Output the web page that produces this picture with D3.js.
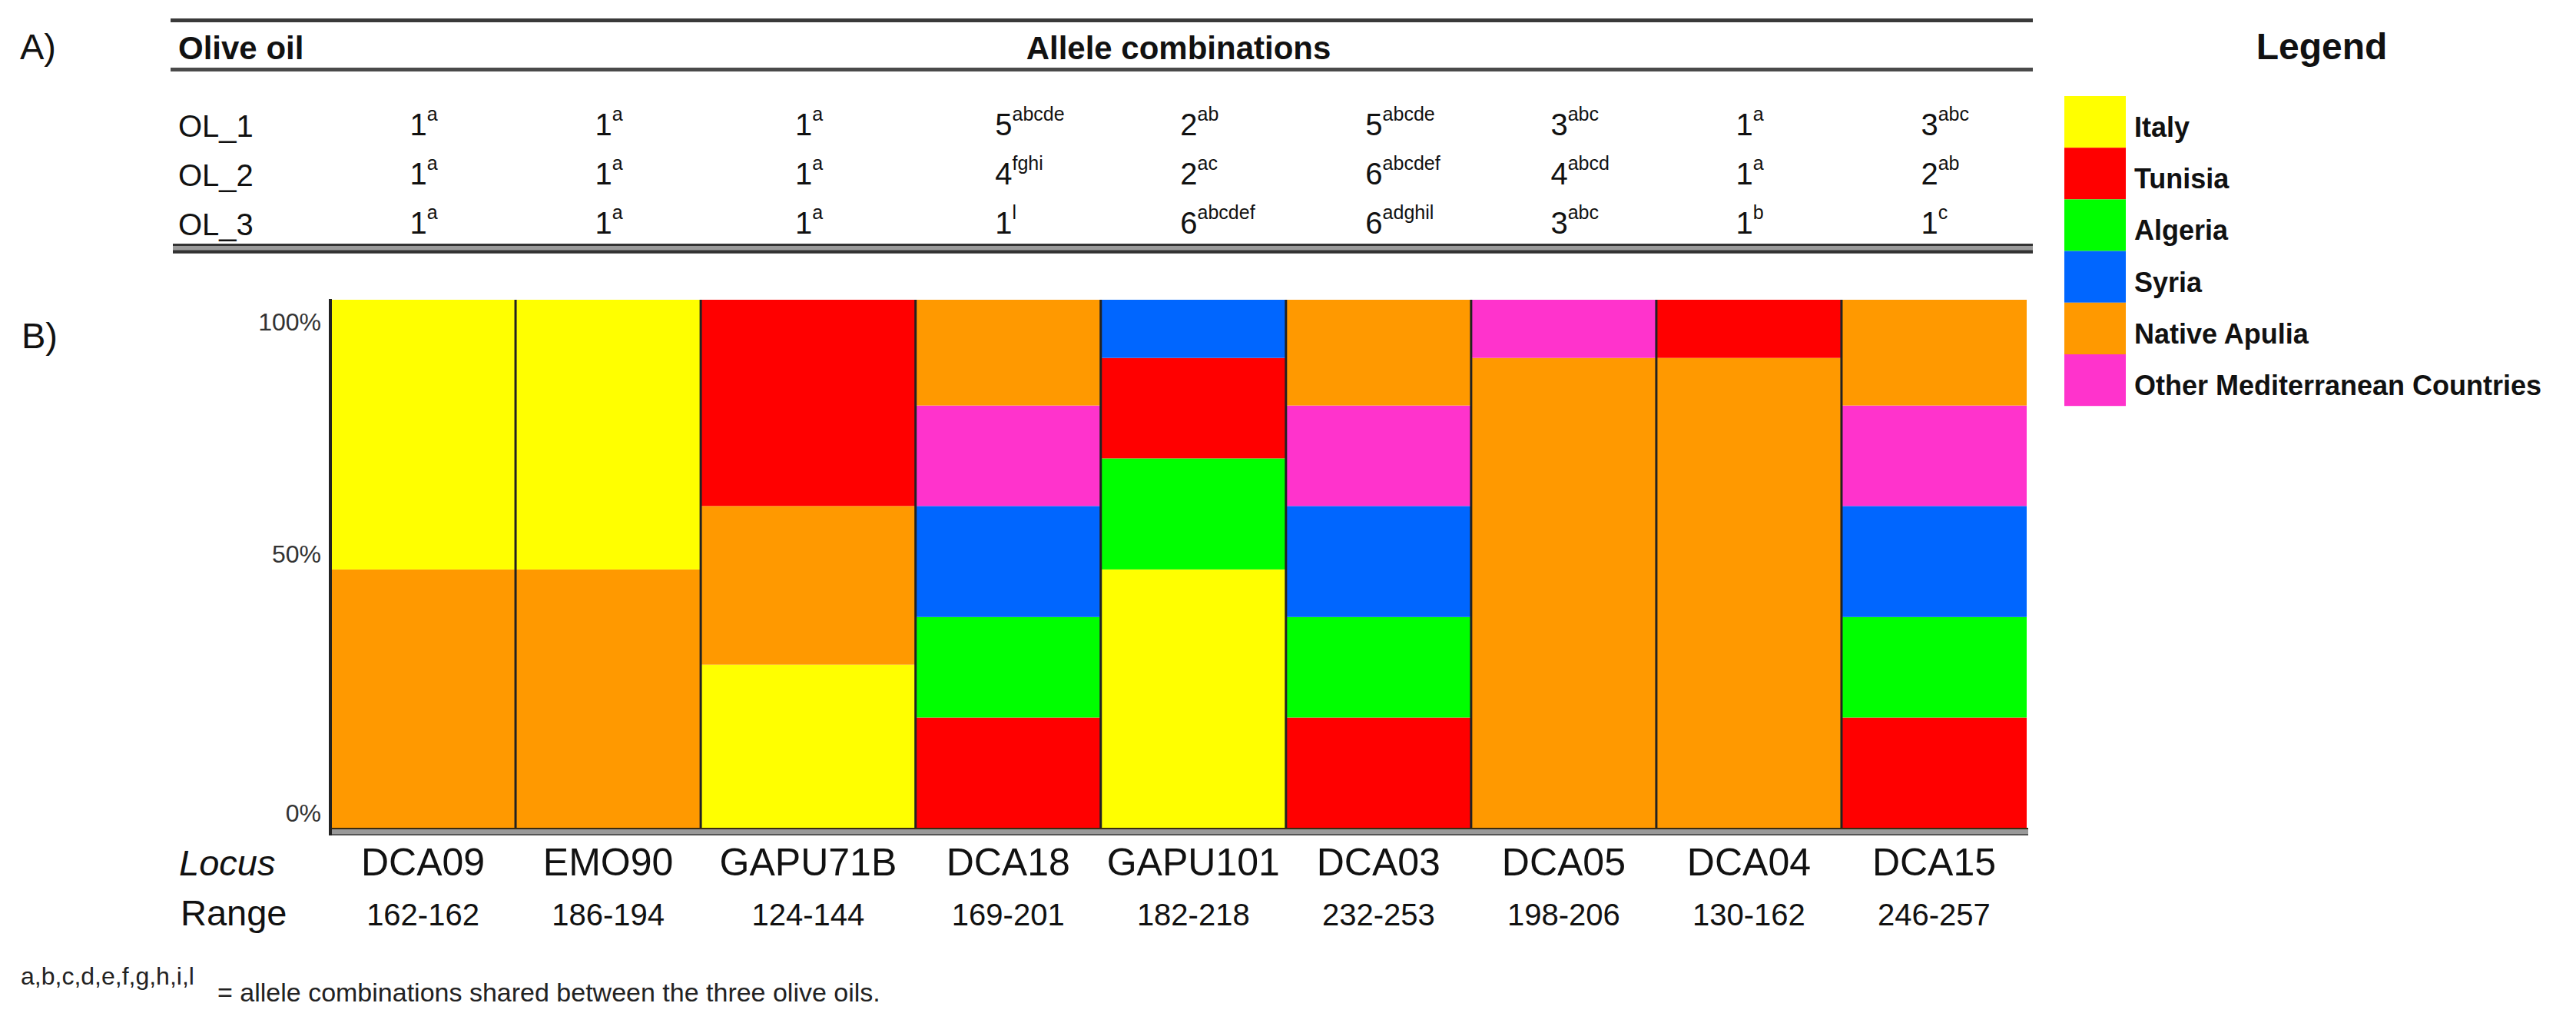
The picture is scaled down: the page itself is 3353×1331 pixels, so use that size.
<!DOCTYPE html>
<html>
<head>
<meta charset="utf-8">
<script src="https://cdn.jsdelivr.net/npm/d3@7"></script>
<style>
  body { margin: 0; background: #fff; }
  svg { display: block; font-family: "Liberation Sans", Arial, sans-serif; }
</style>
</head>
<body>
<div id="chart"></div>
<script>
// ==============================
// Data
// ==============================
var loci = ["DCA09", "EMO90", "GAPU71B", "DCA18", "GAPU101", "DCA03", "DCA05", "DCA04", "DCA15"];
var ranges = ["162-162", "186-194", "124-144", "169-201", "182-218", "232-253", "198-206", "130-162", "246-257"];

var origins = ["Italy", "Tunisia", "Algeria", "Syria", "Native Apulia", "Other Mediterranean Countries"];
var originColors = ["#ffff00", "#ff0000", "#00ff00", "#0066ff", "#ff9900", "#ff33cc"];

// share of each origin per locus, listed bottom to top
var segments = [
  [["Native Apulia", 0.49], ["Italy", 0.51]],
  [["Native Apulia", 0.49], ["Italy", 0.51]],
  [["Italy", 0.31], ["Native Apulia", 0.30], ["Tunisia", 0.39]],
  [["Tunisia", 0.21], ["Algeria", 0.19], ["Syria", 0.21], ["Other Mediterranean Countries", 0.19], ["Native Apulia", 0.20]],
  [["Italy", 0.49], ["Algeria", 0.21], ["Tunisia", 0.19], ["Syria", 0.11]],
  [["Tunisia", 0.21], ["Algeria", 0.19], ["Syria", 0.21], ["Other Mediterranean Countries", 0.19], ["Native Apulia", 0.20]],
  [["Native Apulia", 0.89], ["Other Mediterranean Countries", 0.11]],
  [["Native Apulia", 0.89], ["Tunisia", 0.11]],
  [["Tunisia", 0.21], ["Algeria", 0.19], ["Syria", 0.21], ["Other Mediterranean Countries", 0.19], ["Native Apulia", 0.20]]
];

var yTicks = [0, 0.5, 1];

// table A
var oils = ["OL_1", "OL_2", "OL_3"];
var alleleCounts = [
  [1, 1, 1, 5, 2, 5, 3, 1, 3],
  [1, 1, 1, 4, 2, 6, 4, 1, 2],
  [1, 1, 1, 1, 6, 6, 3, 1, 1]
];
var alleleShared = [
  ["a", "a", "a", "abcde", "ab", "abcde", "abc", "a", "abc"],
  ["a", "a", "a", "fghi", "ac", "abcdef", "abcd", "a", "ab"],
  ["a", "a", "a", "l", "abcdef", "adghil", "abc", "b", "c"]
];

// ==============================
// Layout
// ==============================
var svgWidth = 3353;
var svgHeight = 1331;

var plot = { left: 430, right: 2638, top: 390, bottom: 1078 };
// GAPU71B column is drawn a bit wider than the others
var colWeights = [1, 1, 1.16, 1, 1, 1, 1, 1, 1];

var svg = d3.select("#chart")
  .append("svg")
  .attr("width", svgWidth)
  .attr("height", svgHeight);

var textColor = "#111";

// x positions from cumulative column weights
var cum = [0];
colWeights.forEach(function(w, i) { cum.push(cum[i] + w); });
var xUnit = d3.scaleLinear()
  .domain([0, cum[cum.length - 1]])
  .range([plot.left, plot.right]);
function colLeft(i) { return xUnit(cum[i]); }
function colRight(i) { return xUnit(cum[i + 1]); }
function colMid(i) { return (colLeft(i) + colRight(i)) / 2; }

var yScale = d3.scaleLinear()
  .domain([0, 1])
  .range([plot.bottom, plot.top]);

// tick label baselines sit a little off the plot edges in the original
var yLabel = d3.scaleLinear()
  .domain([0, 0.5, 1])
  .range([1069, 732, 430]);

var color = d3.scaleOrdinal()
  .domain(origins)
  .range(originColors);

// ==============================
// Panel labels
// ==============================
svg.append("text")
  .attr("x", 26).attr("y", 77)
  .attr("font-size", 47)
  .attr("fill", textColor)
  .text("A)");

svg.append("text")
  .attr("x", 28).attr("y", 453)
  .attr("font-size", 47)
  .attr("fill", textColor)
  .text("B)");

// ==============================
// Table A
// ==============================
var table = svg.append("g");
var tLeft = 222, tRight = 2646;

table.append("line")
  .attr("x1", tLeft).attr("x2", tRight)
  .attr("y1", 26.5).attr("y2", 26.5)
  .attr("stroke", "#3a3a3a").attr("stroke-width", 5);

table.append("line")
  .attr("x1", tLeft).attr("x2", tRight)
  .attr("y1", 90.5).attr("y2", 90.5)
  .attr("stroke", "#4a4a4a").attr("stroke-width", 5);

// bottom double rule
table.append("rect")
  .attr("x", tLeft + 3).attr("y", 317)
  .attr("width", tRight - tLeft - 3).attr("height", 13)
  .attr("fill", "#9a9a9a");
table.append("line")
  .attr("x1", tLeft + 3).attr("x2", tRight)
  .attr("y1", 318.5).attr("y2", 318.5)
  .attr("stroke", "#333").attr("stroke-width", 3);
table.append("line")
  .attr("x1", tLeft + 3).attr("x2", tRight)
  .attr("y1", 327.5).attr("y2", 327.5)
  .attr("stroke", "#333").attr("stroke-width", 4);

table.append("text")
  .attr("x", 232).attr("y", 77)
  .attr("font-size", 42).attr("font-weight", "bold")
  .attr("fill", textColor)
  .text("Olive oil");

table.append("text")
  .attr("x", (plot.left + plot.right) / 2).attr("y", 77)
  .attr("text-anchor", "middle")
  .attr("font-size", 42).attr("font-weight", "bold")
  .attr("fill", textColor)
  .text("Allele combinations");

var rowBase = [176, 240, 304];

oils.forEach(function(oil, r) {
  table.append("text")
    .attr("x", 232).attr("y", rowBase[r] + 2)
    .attr("font-size", 40)
    .attr("fill", textColor)
    .text(oil);

  alleleCounts[r].forEach(function(n, c) {
    var t = table.append("text")
      .attr("x", colMid(c) - 17)
      .attr("y", rowBase[r])
      .attr("font-size", 40)
      .attr("fill", textColor);
    t.append("tspan").text(n);
    t.append("tspan")
      .attr("font-size", 25)
      .attr("dy", -19)
      .text(alleleShared[r][c]);
  });
});

// ==============================
// Chart B
// ==============================
var chartGroup = svg.append("g");

var cols = chartGroup.selectAll("g.col")
  .data(segments)
  .enter()
  .append("g")
  .attr("class", "col");

cols.each(function(segs, i) {
  var acc = 0;
  var stacked = segs.map(function(s) {
    var d = { origin: s[0], y0: acc, y1: acc + s[1] };
    acc += s[1];
    return d;
  });
  // top segment fills to 100%
  stacked[stacked.length - 1].y1 = 1;

  d3.select(this).selectAll("rect")
    .data(stacked)
    .enter()
    .append("rect")
    .attr("x", colLeft(i))
    .attr("width", colRight(i) - colLeft(i))
    .attr("y", d => yScale(d.y1))
    .attr("height", d => yScale(d.y0) - yScale(d.y1))
    .attr("fill", d => color(d.origin));
});

// column dividers
chartGroup.selectAll("line.divider")
  .data(d3.range(1, loci.length))
  .enter()
  .append("line")
  .attr("class", "divider")
  .attr("x1", d => colLeft(d)).attr("x2", d => colLeft(d))
  .attr("y1", yScale(1)).attr("y2", yScale(0))
  .attr("stroke", "#222")
  .attr("stroke-width", 3);

// bottom axis band
chartGroup.append("rect")
  .attr("x", plot.left - 2).attr("y", yScale(0))
  .attr("width", plot.right - plot.left + 4).attr("height", 9)
  .attr("fill", "#999");
chartGroup.append("line")
  .attr("x1", plot.left).attr("x2", plot.right + 2)
  .attr("y1", yScale(0)).attr("y2", yScale(0))
  .attr("stroke", "#3a2a10").attr("stroke-width", 2);
chartGroup.append("line")
  .attr("x1", plot.left - 2).attr("x2", plot.right + 2)
  .attr("y1", yScale(0) + 8).attr("y2", yScale(0) + 8)
  .attr("stroke", "#555").attr("stroke-width", 2);

// left axis line
chartGroup.append("line")
  .attr("x1", plot.left).attr("x2", plot.left)
  .attr("y1", yScale(1) - 1).attr("y2", yScale(0) + 9)
  .attr("stroke", "#222")
  .attr("stroke-width", 4);

// y tick labels
chartGroup.selectAll("text.ytick")
  .data(yTicks)
  .enter()
  .append("text")
  .attr("class", "ytick")
  .attr("x", plot.left - 12)
  .attr("y", d => yLabel(d))
  .attr("text-anchor", "end")
  .attr("font-size", 32)
  .attr("fill", "#333")
  .text(d3.format(".0%"));

// locus and range rows
chartGroup.append("text")
  .attr("x", 233).attr("y", 1139)
  .attr("font-size", 47).attr("font-style", "italic")
  .attr("fill", textColor)
  .text("Locus");

chartGroup.append("text")
  .attr("x", 235).attr("y", 1204)
  .attr("font-size", 47)
  .attr("fill", textColor)
  .text("Range");

chartGroup.selectAll("text.locus")
  .data(loci)
  .enter()
  .append("text")
  .attr("class", "locus")
  .attr("x", (d, i) => colMid(i))
  .attr("y", 1139)
  .attr("text-anchor", "middle")
  .attr("font-size", 50)
  .attr("fill", textColor)
  .text(d => d);

chartGroup.selectAll("text.range")
  .data(ranges)
  .enter()
  .append("text")
  .attr("class", "range")
  .attr("x", (d, i) => colMid(i))
  .attr("y", 1204)
  .attr("text-anchor", "middle")
  .attr("font-size", 40)
  .attr("fill", textColor)
  .text(d => d);

// ==============================
// Legend
// ==============================
var legend = svg.append("g");
var boxH = 67.2;

legend.append("text")
  .attr("x", 3022).attr("y", 77)
  .attr("text-anchor", "middle")
  .attr("font-size", 48).attr("font-weight", "bold")
  .attr("fill", textColor)
  .text("Legend");

var items = legend.selectAll("g.item")
  .data(origins)
  .enter()
  .append("g")
  .attr("class", "item")
  .attr("transform", (d, i) => `translate(2687, ${125 + i * boxH})`);

items.append("rect")
  .attr("width", 80)
  .attr("height", boxH)
  .attr("fill", d => color(d));

items.append("text")
  .attr("x", 91)
  .attr("y", 53)
  .attr("font-size", 36).attr("font-weight", "bold")
  .attr("fill", textColor)
  .text(d => d);

// ==============================
// Footnote
// ==============================
svg.append("text")
  .attr("x", 27).attr("y", 1281)
  .attr("font-size", 32)
  .attr("fill", "#222")
  .text("a,b,c,d,e,f,g,h,i,l");

svg.append("text")
  .attr("x", 283).attr("y", 1303)
  .attr("font-size", 34)
  .attr("fill", "#222")
  .text("= allele combinations shared between the three olive oils.");
</script>
</body>
</html>
